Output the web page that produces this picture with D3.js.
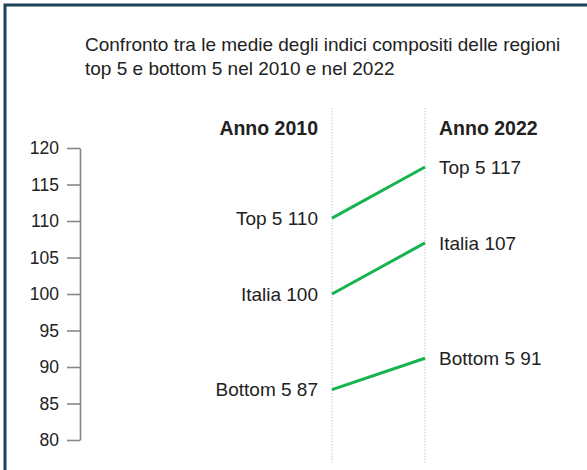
<!DOCTYPE html>
<html><head><meta charset="utf-8">
<script src="https://cdn.jsdelivr.net/npm/d3@7"></script>
<style>
html,body{margin:0;padding:0;background:#fff;}
svg{display:block;font-family:"Liberation Sans",Arial,Helvetica,sans-serif;}
</style></head>
<body>
<svg id="c" width="587" height="470"></svg>
<script>
const titleLines = ["Confronto tra le medie degli indici compositi delle regioni", "top 5 e bottom 5 nel 2010 e nel 2022"];
const years = ["Anno 2010", "Anno 2022"];
const groups = ["Top 5", "Italia", "Bottom 5"];
const values2010 = [110.4, 100, 86.9];
const values2022 = [117.4, 107, 91.2];
const labels2010 = [110, 100, 87];
const labels2022 = [117, 107, 91];
const yTicks = [80, 85, 90, 95, 100, 105, 110, 115, 120];

const svg = d3.select("#c");
// frame
svg.append("path").attr("d","M5,470 V5 H587").attr("fill","none").attr("stroke","#1d4356").attr("stroke-width",3);

// title
const t = svg.append("text").attr("x",85).attr("y",51).attr("font-size",19).attr("fill","#222");
titleLines.forEach((l,i)=>t.append("tspan").attr("x",85).attr("dy",i?23.5:0).text(l));

const y = d3.scaleLinear().domain([80,120]).range([440,148]);
const x = d3.scalePoint().domain(years).range([332,425]);

// axis
const ax = svg.append("g").attr("transform","translate(80,0)")
  .call(d3.axisLeft(y).tickValues(yTicks).tickSize(13).tickPadding(8).tickSizeOuter(0));
ax.select(".domain").attr("stroke","#888").attr("stroke-width",1.6);
ax.selectAll(".tick line").attr("stroke","#888").attr("stroke-width",1.6);
ax.selectAll(".tick text").attr("font-size",17.5).attr("fill","#222").attr("font-family","Liberation Sans,Arial,sans-serif");

// dotted verticals
years.forEach(yr=>{
  svg.append("line").attr("x1",x(yr)).attr("x2",x(yr)).attr("y1",108).attr("y2",463)
    .attr("stroke","#c8c8c8").attr("stroke-width",1).attr("stroke-dasharray","1.5,1.5");
});

// headers
svg.append("text").attr("x",x(years[0])-14).attr("y",135).attr("text-anchor","end")
  .attr("font-weight","bold").attr("font-size",19.5).attr("fill","#222").text(years[0]);
svg.append("text").attr("x",x(years[1])+14).attr("y",135).attr("text-anchor","start")
  .attr("font-weight","bold").attr("font-size",19.5).attr("fill","#222").text(years[1]);

// lines
groups.forEach((g,i)=>{
  svg.append("line").attr("x1",x(years[0])).attr("y1",y(values2010[i]))
    .attr("x2",x(years[1])).attr("y2",y(values2022[i]))
    .attr("stroke","#16b34f").attr("stroke-width",3).attr("stroke-linecap","butt");
  svg.append("text").attr("x",x(years[0])-14).attr("y",y(values2010[i])).attr("dy","0.36em")
    .attr("text-anchor","end").attr("font-size",19).attr("fill","#222").text(g+" "+labels2010[i]);
  svg.append("text").attr("x",x(years[1])+14).attr("y",y(values2022[i])).attr("dy","0.36em")
    .attr("text-anchor","start").attr("font-size",19).attr("fill","#222").text(g+" "+labels2022[i]);
});
</script>
</body></html>
